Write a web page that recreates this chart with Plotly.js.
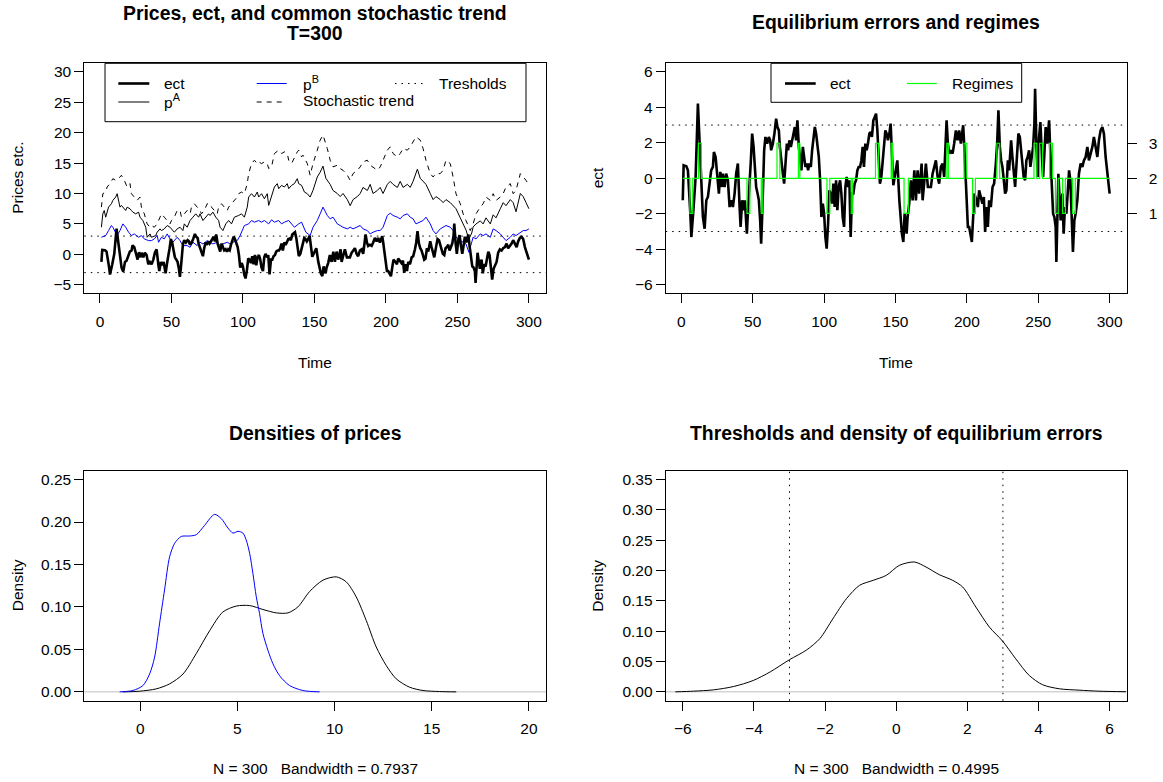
<!DOCTYPE html>
<html>
<head>
<meta charset="utf-8">
<script src="https://cdn.plot.ly/plotly-3.0.1.min.js"></script>
<style>
  html, body { margin: 0; padding: 0; background: #ffffff; }
  #chart { width: 1163px; height: 782px; }
</style>
</head>
<body>
<div id="chart"></div>
<script>
// ---------------- data ----------------
const thresholds = [-3, 3];

// equilibrium error (ect)
const ectTime = [1,1.6,3.5,4.6,6.3,7.0,8.6,10.0,11.6,12.8,
  14.0,15.1,16.3,17.5,18.6,19.8,20.9,22.1,22.8,24.0,
  24.9,26.3,27.3,28.4,29.1,30.3,31.4,32.6,33.8,34.9,
  36.1,37.3,38.4,39.6,40.8,41.5,42.6,43.6,44.5,45.9,
  46.8,47.8,48.7,49.6,50.6,51.5,52.4,53.4,54.3,55.2,
  55.9,56.6,57.3,58.0,58.9,60.1,61.3,62.2,62.9,64.1,
  65.2,66.4,67.3,68.3,69.0,69.9,71.1,72.0,72.9,73.9,
  74.8,75.7,76.7,77.6,78.5,79.5,80.4,81.3,82.3,83.2,
  84.1,85.1,86.0,86.9,87.9,88.8,89.7,90.7,91.6,92.5,
  93.5,94.4,95.3,96.3,97.2,98.1,99.1,100.0,100.9,101.8,
  102.8,103.7,104.6,105.6,106.5,107.4,108.4,109.3,110.2,111.2,
  112.1,113.0,114.0,114.9,115.8,116.8,117.7,118.6,119.6,120.5,
  121.4,122.4,123.3,124.2,125.2,126.1,127.0,127.9,128.9,129.8,
  130.7,131.7,132.6,133.5,134.5,135.4,136.4,137.3,138.2,139.1,
  140.1,141.0,141.9,142.9,143.8,144.7,145.7,146.6,
  148.5,149.9,151.3,152.7,153.8,154.5,155.5,156.4,157.8,158.5,
  159.6,160.8,162.0,163.2,164.3,165.5,166.6,168.3,169.0,170.1,
  171.3,172.7,174.8,176.0,178.3,179.5,180.6,181.8,183.0,184.1,
  185.8,186.7,187.6,188.8,190.0,191.1,192.3,193.5,194.6,195.8,
  197.4,198.1,199.3,200.7,201.6,203.5,204.4,205.3,206.7,207.7,
  208.6,209.5,210.9,211.9,212.8,213.8,214.7,215.6,216.8,218.0,
  219.1,220.3,221.2,222.1,223.1,224.0,224.9,225.9,226.8,227.7,
  228.7,229.6,231.0,231.9,233.8,235.2,236.1,237.1,238.4,239.8,
  240.8,241.7,242.6,243.6,244.5,245.4,246.4,247.3,247.8,248.7,
  249.6,250.6,251.5,252.5,253.4,254.3,255.2,256.2,257.6,258.5,
  259.4,260.4,261.3,262.2,262.7,263.4,264.1,265.0,265.7,266.9,
  267.8,268.7,269.7,270.6,271.6,272.5,273.4,274.3,275.3,276.2,
  277.4,278.5,279.7,280.9,282.0,283.2,284.4,285.5,286.7,287.9,
  289.0,290.2,291.4,292.5,293.7,294.9,296.0,297.2,298.4,300];
const ectValue = [-1.24,0.73,0.68,0.45,-1.99,-3.31,-1.62,0.08,4.21,1.95,
  -0.49,-2.18,-2.84,-1.24,-1.05,-0.11,0.45,0.64,1.48,1.20,
  0.45,-0.86,0.36,-0.49,0.26,-0.49,0.26,-0.11,-1.62,-1.24,
  -1.62,-0.86,0.26,0.83,-1.62,-2.74,-1.24,-1.80,-1.24,-3.12,
  -1.62,-0.49,1.01,2.52,1.77,0.64,-0.49,-0.86,-1.24,-2.37,
  -3.68,-2.18,0.26,1.58,2.33,1.95,2.33,2.14,1.58,1.95,
  2.52,3.36,2.89,2.70,1.77,1.01,0.26,-0.30,1.01,1.95,
  1.58,2.14,1.77,2.14,2.33,2.89,2.14,3.27,1.77,1.20,
  0.45,1.77,1.01,0.64,0.83,0.45,0.83,0.64,1.58,2.14,
  2.89,2.52,1.77,1.20,-0.11,-2.18,-1.43,-1.99,-3.31,-3.96,
  -2.55,-0.68,-0.86,-1.43,-0.30,-1.62,-0.11,-1.80,-0.49,-0.11,
  -0.86,-2.18,-2.74,-0.49,0.08,-0.49,-0.11,-3.31,-0.86,-0.86,
  -0.30,-0.11,0.45,0.64,0.64,1.01,1.77,0.64,1.95,1.58,
  1.95,2.52,2.61,2.33,3.27,3.46,3.64,2.70,1.20,-0.30,
  0.08,1.01,1.95,2.70,2.52,2.14,2.52,3.08,
  -0.39,0.26,1.01,-1.24,-2.37,-3.12,-3.59,-1.99,-3.12,-2.18,
  -1.43,-0.11,-1.24,0.45,-1.24,0.45,-0.86,0.83,-1.24,-0.11,
  0.83,-0.49,-0.49,0.26,1.01,0.08,-0.30,0.64,0.83,0.08,
  3.27,1.95,1.39,1.58,1.39,1.95,2.70,2.14,2.70,1.95,
  2.99,1.95,-0.11,-2.74,-2.74,-3.59,-2.18,-0.86,-1.24,-1.62,
  -0.68,-1.05,-1.43,-1.05,-3.02,-1.62,-2.74,-1.24,-1.62,-0.49,
  -0.30,0.83,1.95,3.83,1.77,1.01,0.64,-0.11,-0.86,-0.68,
  1.01,0.45,2.14,1.20,-0.49,1.39,2.52,2.33,1.01,0.08,
  -0.11,1.01,1.20,1.58,0.64,1.20,1.77,3.08,5.05,1.95,
  0.08,2.33,3.17,1.39,0.08,1.39,2.89,1.95,3.27,1.39,
  0.08,-1.99,-2.18,-2.74,-4.71,-2.18,0.26,-1.24,-2.37,-0.86,
  -3.12,-1.62,-1.99,-0.86,0.45,-0.11,-2.18,-4.15,-2.37,-1.99,
  -1.24,0.26,0.83,0.64,1.01,1.20,1.77,1.01,1.39,1.77,
  2.33,1.77,1.20,2.14,2.70,2.89,2.52,1.20,0.45,-0.86];

// regime switches (1 = lower, 2 = middle, 3 = upper)
const regimeTime  = [1,6,8,12,14,46,48,56,57,67,69,82,83,102,104,119,120,136,138,147,148,
  156,159,186,187,198,200,204,206,221,223,247,249,251,253,258,260,262,264,267,269,274,276,300];
const regimeValue = [2,1,2,3,2,1,2,1,2,3,2,3,2,1,2,1,2,3,2,3,2,
  1,2,3,2,3,2,1,2,3,2,3,2,3,2,3,2,1,2,1,2,1,2,2];
const regimeTicks = [1, 2, 3];

// price of A
const pATime = [1,2,3,4,6,8,9,11,12,13,14,15,16,18,19,21,22,23,25,27,28,30,32,33,35,36,39,40,42,43,
  45,47,49,51,52,54,56,58,59,61,63,65,67,69,70,72,74,76,77,79,81,83,84,86,88,90,92,94,97,99,
  101,103,104,106,108,110,111,113,115,117,118,120,122,124,125,127,129,131,132,134,136,138,139,141,
  142,143,145,147,149,150,152,154,156,158,161,163,166,168,170,173,175,177,180,182,184,187,189,191,
  194,196,198,201,203,205,208,210,212,215,217,219,221,222,224,226,228,231,233,235,238,240,242,245,
  247,249,252,254,256,258,260,261,263,266,268,270,273,275,277,280,282,284,287,289,291,294,296,298,300];
const pAValue = [4.46,6.66,7.21,6.11,7.76,8.32,8.87,9.42,9.97,8.87,7.76,8.04,7.76,7.21,7.76,7.49,7.21,6.94,6.66,6.94,
  6.11,5.56,4.46,2.81,3.36,2.81,3.09,3.64,4.19,3.91,
  4.19,4.74,4.46,3.91,3.64,4.19,4.46,3.91,5.01,4.46,5.56,6.11,6.66,6.11,6.66,5.56,6.11,6.66,6.39,6.94,
  6.11,5.56,4.46,3.91,5.01,5.56,5.01,6.11,6.39,6.66,
  6.11,7.76,9.42,9.97,9.42,10.24,9.42,9.97,9.14,9.97,8.04,9.69,11.07,11.62,10.79,11.34,11.07,11.62,10.79,11.34,
  11.62,12.44,11.62,11.34,
  10.79,10.24,9.97,9.42,10.52,11.34,12.72,13.5,14.5,12.5,11.5,10.5,10.0,9.5,10.0,9.0,8.0,9.0,9.5,10.0,
  11.0,10.5,11.5,10.0,
  10.5,11.0,10.0,11.5,12.0,11.5,11.0,12.0,11.0,11.5,11.0,12.0,13.5,14.0,12.5,12.0,11.5,10.0,9.0,9.5,
  9.0,8.5,9.0,8.5,
  8.0,7.5,6.0,5.0,4.0,2.5,3.5,4.5,5.0,5.5,5.0,6.0,5.0,6.5,6.0,7.5,8.5,8.0,9.0,8.5,7.0,10.0,9.5,8.5,7.5];

// price of B
const pBTime = [1,4,6,8,9,11,12,14,16,18,20,22,24,27,29,31,34,36,38,40,41,43,45,47,49,51,54,56,58,61,
  63,65,68,70,72,75,77,79,82,84,86,89,91,93,96,98,100,101,104,106,108,111,113,115,118,120,122,125,127,129,
  132,134,136,139,141,144,147,149,152,154,156,159,161,163,166,168,170,173,175,177,180,182,184,187,189,
  191,194,196,198,201,203,205,208,210,212,215,217,219,221,224,226,228,231,233,235,238,240,242,245,247,249,
  252,254,256,258,259,260,261,263,266,268,270,273,275,277,280,282,284,287,289,291,294,296,298,300];
const pBValue = [2.81,3.09,3.91,4.74,4.46,3.64,3.09,3.91,5.01,4.46,3.64,3.09,3.36,2.81,3.09,2.54,2.26,2.26,2.54,3.09,
  1.99,2.81,2.54,3.36,2.54,1.99,2.81,2.26,1.44,1.44,
  1.16,1.99,1.44,1.99,1.71,2.26,1.99,1.71,1.99,1.44,1.71,1.99,1.71,1.99,2.26,3.09,4.19,4.74,5.01,5.56,
  5.29,5.56,5.29,5.56,5.01,5.68,5.29,5.56,5.01,5.29,
  5.56,5.01,4.46,5.01,5.29,3.64,3.09,4.46,5.56,6.66,7.76,6.39,5.84,6.11,5.01,4.74,4.46,4.19,4.46,4.19,
  4.46,4.74,4.19,3.91,3.36,
  3.64,3.91,3.91,4.46,6.39,6.77,6.39,6.11,5.84,6.39,6.66,6.11,5.84,5.01,5.29,5.56,6.11,5.01,3.91,3.36,
  4.19,4.46,4.74,4.46,3.91,2.81,
  2.26,1.99,1.71,0.34,1.16,1.99,2.81,2.54,3.36,3.09,3.36,2.81,4.19,3.91,3.36,2.81,2.26,2.81,3.36,3.09,
  3.64,3.91,3.91,4.19];

// common stochastic trend
const trendTime = [1,2,4,5,7,9,11,13,15,17,19,21,22,24,26,28,29,31,33,35,36,38,40,42,43,45,47,49,50,52,
  54,56,57,59,61,63,64,66,68,70,71,73,75,77,78,80,82,83,85,87,89,90,92,94,96,97,99,101,103,104,
  106,108,110,111,113,115,117,118,120,122,124,125,127,129,131,132,134,136,138,139,141,
  142,145,147,149,152,154,156,159,161,163,166,168,170,173,175,177,180,182,184,187,189,191,194,196,198,
  201,203,205,208,210,212,215,217,219,221,224,226,228,231,233,235,238,240,242,245,247,249,252,254,256,
  259,261,263,266,268,270,273,275,277,280,282,284,287,289,291,294,296,298,300];
const trendValue = [7.76,9.97,10.24,11.07,11.62,12.44,12.17,12.44,13.0,12.17,11.07,11.62,9.97,9.42,8.87,9.42,7.76,6.66,5.01,4.46,
  4.74,4.46,5.01,6.11,6.66,6.11,5.56,5.01,5.56,6.11,
  7.21,7.21,6.11,6.66,7.21,6.66,7.76,8.32,7.76,7.21,6.66,7.21,8.32,8.32,7.76,7.21,6.66,7.76,8.32,7.76,
  7.21,7.76,8.32,8.87,9.42,9.97,10.24,9.97,11.62,13.27,
  14.92,15.47,14.92,15.20,14.92,15.20,14.92,14.10,14.37,16.57,16.85,17.12,16.57,16.85,16.57,15.47,14.92,16.02,16.85,17.12,
  16.02,
  16.30,14.92,13.0,14.92,17.12,18.77,19.60,17.40,15.47,14.37,14.65,14.10,13.82,13.0,12.17,13.27,13.82,14.37,15.20,15.47,
  14.65,14.37,13.82,14.37,15.47,
  17.12,17.67,16.57,16.02,16.57,17.40,17.12,17.67,18.50,19.32,18.77,17.40,15.47,13.27,12.72,13.27,13.27,13.82,15.47,14.92,
  12.72,9.97,8.32,6.66,5.56,
  3.91,5.01,6.66,7.76,8.32,9.42,8.87,9.97,8.87,9.42,9.97,11.07,11.62,9.97,10.52,13.27,12.72,12.17,11.34];

// kernel density estimates
const densPAx = [-0.89,-0.03,0.82,1.51,2.20,2.88,3.57,4.25,4.94,5.63,6.31,7.00,7.60,8.11,8.71,9.40,10.09,10.60,11.11,11.63,
  12.14,12.66,13.17,13.86,14.55,15.40,16.26];
const densPAy = [0,0.0008,0.0035,0.0094,0.021,0.045,0.072,0.094,0.101,0.1016,0.097,0.093,0.093,0.100,0.118,0.1315,0.1354,0.1295,0.112,0.084,
  0.053,0.031,0.0154,0.0055,0.0016,0.0004,0];
const densPBx = [-1.06,-0.38,0.14,0.48,0.74,0.99,1.25,1.51,1.77,2.11,2.54,2.88,3.31,3.82,4.17,4.51,4.77,5.03,5.28,5.45,
  5.63,5.80,5.97,6.14,6.31,6.57,6.83,7.17,7.68,8.37,9.23];
const densPBy = [0,0.0016,0.0075,0.021,0.041,0.080,0.120,0.159,0.175,0.183,0.1835,0.185,0.196,0.209,0.204,0.193,0.187,0.189,0.187,0.179,
  0.163,0.139,0.112,0.092,0.069,0.049,0.033,0.019,0.0075,0.0016,0];
const densEctX = [-6.21,-5.70,-5.13,-4.57,-4.02,-3.54,-3.0,-2.52,-2.15,-1.78,-1.40,-1.03,-0.65,-0.28,0.09,0.51,0.84,1.21,1.59,1.87,
  2.24,2.62,2.99,3.36,3.74,4.12,4.59,5.14,5.70,6.46];
const densEctY = [0,0.0011,0.0033,0.0088,0.0187,0.033,0.053,0.069,0.0875,0.1205,0.1535,0.1756,0.1838,0.192,0.2086,0.2141,0.2058,0.1932,0.1838,0.1728,
  0.1398,0.1068,0.0837,0.0545,0.027,0.0116,0.005,0.0028,0.0011,0.0002];

// tick labels
const timeTicks = [0, 50, 100, 150, 200, 250, 300];
const priceTicks = [-5, 0, 5, 10, 15, 20, 25, 30];
const ectTicks = [-6, -4, -2, 0, 2, 4, 6];
const densPriceXTicks = [0, 5, 10, 15, 20];
const densPriceYTicks = [0, 0.05, 0.10, 0.15, 0.20, 0.25];
const densEctXTicks = [-6, -4, -2, 0, 2, 4, 6];
const densEctYTicks = [0, 0.05, 0.10, 0.15, 0.20, 0.25, 0.30, 0.35];

const sampleSize = 300;
const bwPrices = 0.7937;
const bwEct = 0.4995;

// ---------------- layout helpers ----------------
const W = 1163, H = 782;
const px = v => v / W;
const py = v => 1 - v / H;
const FONT = 'Liberation Sans, Arial, Helvetica, sans-serif';
const FS = 15.5;        // axis and legend text
const FS_TITLE = 19.4;  // bold panel titles
const BLACK = '#000000';

// panel boxes in pixels: [left, right, top, bottom]
const boxTL = [84.3, 546, 63.3, 293.3];
const boxTR = [665.7, 1126.7, 63.3, 293.3];
const boxBL = [84.3, 546, 470.7, 700.7];
const boxBR = [665.7, 1126.7, 470.7, 700.7];
const xDom = b => [px(b[0]), px(b[1])];
const yDom = b => [py(b[3]), py(b[2])];
const midX = b => (b[0] + b[1]) / 2;
const midY = b => (b[2] + b[3]) / 2;

function axis(extra) {
  return Object.assign({
    showline: true, mirror: true, linecolor: BLACK, linewidth: 1,
    ticks: 'outside', ticklen: 9, tickwidth: 1, tickcolor: BLACK,
    showgrid: false, zeroline: false, automargin: false, fixedrange: true,
    title: { text: '' },
    tickfont: { family: FONT, size: FS, color: BLACK }
  }, extra);
}
const xStandoff = 5, yStandoff = 12.5, rightStandoff = 9;

// ---------------- traces ----------------
const traces = [
  // top left
  { x: pATime, y: pAValue, xaxis: 'x', yaxis: 'y', mode: 'lines', line: { color: BLACK, width: 1 } },
  { x: trendTime, y: trendValue, xaxis: 'x', yaxis: 'y', mode: 'lines', line: { color: BLACK, width: 1, dash: '5px,5px' } },
  { x: pBTime, y: pBValue, xaxis: 'x', yaxis: 'y', mode: 'lines', line: { color: '#0000FF', width: 1 } },
  { x: ectTime, y: ectValue, xaxis: 'x', yaxis: 'y', mode: 'lines', line: { color: BLACK, width: 2.6 } },
  // top right
  { x: ectTime, y: ectValue, xaxis: 'x2', yaxis: 'y2', mode: 'lines', line: { color: BLACK, width: 2.6 } },
  { x: regimeTime, y: regimeValue, xaxis: 'x2', yaxis: 'y3', mode: 'lines', line: { color: '#00FF00', width: 1.2, shape: 'hv' } },
  // bottom left
  { x: densPAx, y: densPAy, xaxis: 'x3', yaxis: 'y4', mode: 'lines', line: { color: BLACK, width: 1, shape: 'spline', smoothing: 0.8 } },
  { x: densPBx, y: densPBy, xaxis: 'x3', yaxis: 'y4', mode: 'lines', line: { color: '#0000FF', width: 1, shape: 'spline', smoothing: 0.8 } },
  // bottom right
  { x: densEctX, y: densEctY, xaxis: 'x4', yaxis: 'y5', mode: 'lines', line: { color: BLACK, width: 1, shape: 'spline', smoothing: 0.8 } }
];
traces.forEach(t => { t.hoverinfo = 'skip'; t.showlegend = false; });

// ---------------- shapes ----------------
const dotted = { color: BLACK, width: 1, dash: '1.5px,5px' };
const shapes = [];
thresholds.forEach(th => {
  shapes.push({ type: 'line', xref: 'x domain', yref: 'y', x0: 0, x1: 1, y0: th, y1: th, line: dotted, layer: 'below' });
  shapes.push({ type: 'line', xref: 'x2 domain', yref: 'y2', x0: 0, x1: 1, y0: th, y1: th, line: dotted, layer: 'below' });
  shapes.push({ type: 'line', xref: 'x4', yref: 'y5 domain', x0: th, x1: th, y0: 0, y1: 1, line: dotted, layer: 'below' });
});
// zero reference lines of the density panels
shapes.push({ type: 'line', xref: 'x3 domain', yref: 'y4', x0: 0, x1: 1, y0: 0, y1: 0, line: { color: '#BEBEBE', width: 1 }, layer: 'below' });
shapes.push({ type: 'line', xref: 'x4 domain', yref: 'y5', x0: 0, x1: 1, y0: 0, y1: 0, line: { color: '#BEBEBE', width: 1 }, layer: 'below' });

// legend boxes and keys (paper coordinates)
function rect(x0, x1, y0, y1) {
  shapes.push({ type: 'rect', xref: 'paper', yref: 'paper', x0: px(x0), x1: px(x1), y0: py(y1), y1: py(y0),
    line: { color: BLACK, width: 1 }, fillcolor: '#FFFFFF' });
}
function key(x0, x1, y, line) {
  shapes.push({ type: 'line', xref: 'paper', yref: 'paper', x0: px(x0), x1: px(x1), y0: py(y), y1: py(y), line: line });
}
rect(105, 526, 63.3, 121.7);
key(118.3, 149.3, 83.5, { color: BLACK, width: 2.6 });
key(118.3, 149.3, 102, { color: BLACK, width: 1 });
key(256.7, 286.7, 83.5, { color: '#0000FF', width: 1 });
key(256.7, 286.7, 102, { color: BLACK, width: 1, dash: '5px,5px' });
key(395, 423.3, 83.5, dotted);
rect(771, 1021.7, 63.3, 102.3);
key(785, 815.7, 83.5, { color: BLACK, width: 2.6 });
key(907, 936.7, 83.5, { color: '#00FF00', width: 1.2 });

// ---------------- annotations ----------------
const annotations = [];
function label(text, x, y, opts) {
  annotations.push(Object.assign({
    text: text, xref: 'paper', yref: 'paper', x: px(x), y: py(y),
    xanchor: 'center', yanchor: 'middle', showarrow: false,
    font: { family: FONT, size: FS, color: BLACK }
  }, opts || {}));
}
const titleFont = { family: FONT, size: FS_TITLE, color: BLACK };
label('<b>Prices, ect, and common stochastic trend</b>', midX(boxTL), 12.5, { font: titleFont });
label('<b>T=' + sampleSize + '</b>', midX(boxTL), 32.5, { font: titleFont });
label('<b>Equilibrium errors and regimes</b>', midX(boxTR), 22, { font: titleFont });
label('<b>Densities of prices</b>', midX(boxBL), 433, { font: titleFont });
label('<b>Thresholds and density of equilibrium errors</b>', midX(boxBR), 433, { font: titleFont });

label('Time', midX(boxTL), 362);
label('Time', midX(boxTR), 362);
label('Prices etc.', 17.5, midY(boxTL), { textangle: -90 });
label('ect', 597, midY(boxTR), { textangle: -90 });
label('Density', 17.5, midY(boxBL), { textangle: -90 });
label('Density', 598, midY(boxBR), { textangle: -90 });
const nb = '\u00a0';
label('N = ' + sampleSize + nb + nb + nb + 'Bandwidth = ' + bwPrices.toFixed(4), midX(boxBL), 768);
label('N = ' + sampleSize + nb + nb + nb + 'Bandwidth = ' + bwEct.toFixed(4), midX(boxBR), 768);

// legend texts
label('ect', 161.5, 83, { xanchor: 'left' });
label('p<sup>A</sup>', 161.5, 101, { xanchor: 'left' });
label('p<sup>B</sup>', 301, 83, { xanchor: 'left' });
label('Stochastic trend', 301, 101, { xanchor: 'left' });
label('Tresholds', 437, 83, { xanchor: 'left' });
label('ect', 828, 83, { xanchor: 'left' });
label('Regimes', 950, 83, { xanchor: 'left' });

// ---------------- layout ----------------
const layout = {
  width: W, height: H,
  margin: { l: 0, r: 0, t: 0, b: 0, pad: 0 },
  paper_bgcolor: '#FFFFFF', plot_bgcolor: '#FFFFFF',
  font: { family: FONT, size: FS, color: BLACK },
  showlegend: false,
  xaxis: axis({ domain: xDom(boxTL), anchor: 'y', range: [-10.96, 311.96], tickvals: timeTicks, ticklabelstandoff: xStandoff }),
  yaxis: axis({ domain: yDom(boxTL), anchor: 'x', range: [-6.4, 31.4], tickvals: priceTicks, ticklabelstandoff: yStandoff }),
  xaxis2: axis({ domain: xDom(boxTR), anchor: 'y2', range: [-10.96, 311.96], tickvals: timeTicks, ticklabelstandoff: xStandoff }),
  yaxis2: axis({ domain: yDom(boxTR), anchor: 'x2', range: [-6.48, 6.48], tickvals: ectTicks, ticklabelstandoff: yStandoff }),
  yaxis3: axis({ overlaying: 'y2', anchor: 'x2', side: 'right', range: [-1.28, 5.28], tickvals: regimeTicks,
                 showline: false, mirror: false, ticklabelstandoff: rightStandoff }),
  xaxis3: axis({ domain: xDom(boxBL), anchor: 'y4', range: [-2.88, 20.88], tickvals: densPriceXTicks, ticklabelstandoff: xStandoff }),
  yaxis4: axis({ domain: yDom(boxBL), anchor: 'x3', range: [-0.0104, 0.2604], tickvals: densPriceYTicks, tickformat: '.2f', ticklabelstandoff: yStandoff }),
  xaxis4: axis({ domain: xDom(boxBR), anchor: 'y5', range: [-6.48, 6.48], tickvals: densEctXTicks, ticklabelstandoff: xStandoff }),
  yaxis5: axis({ domain: yDom(boxBR), anchor: 'x4', range: [-0.0146, 0.3646], tickvals: densEctYTicks, tickformat: '.2f', ticklabelstandoff: yStandoff }),
  shapes: shapes,
  annotations: annotations
};

Plotly.newPlot('chart', traces, layout, { staticPlot: true, displayModeBar: false });
</script>
</body>
</html>
